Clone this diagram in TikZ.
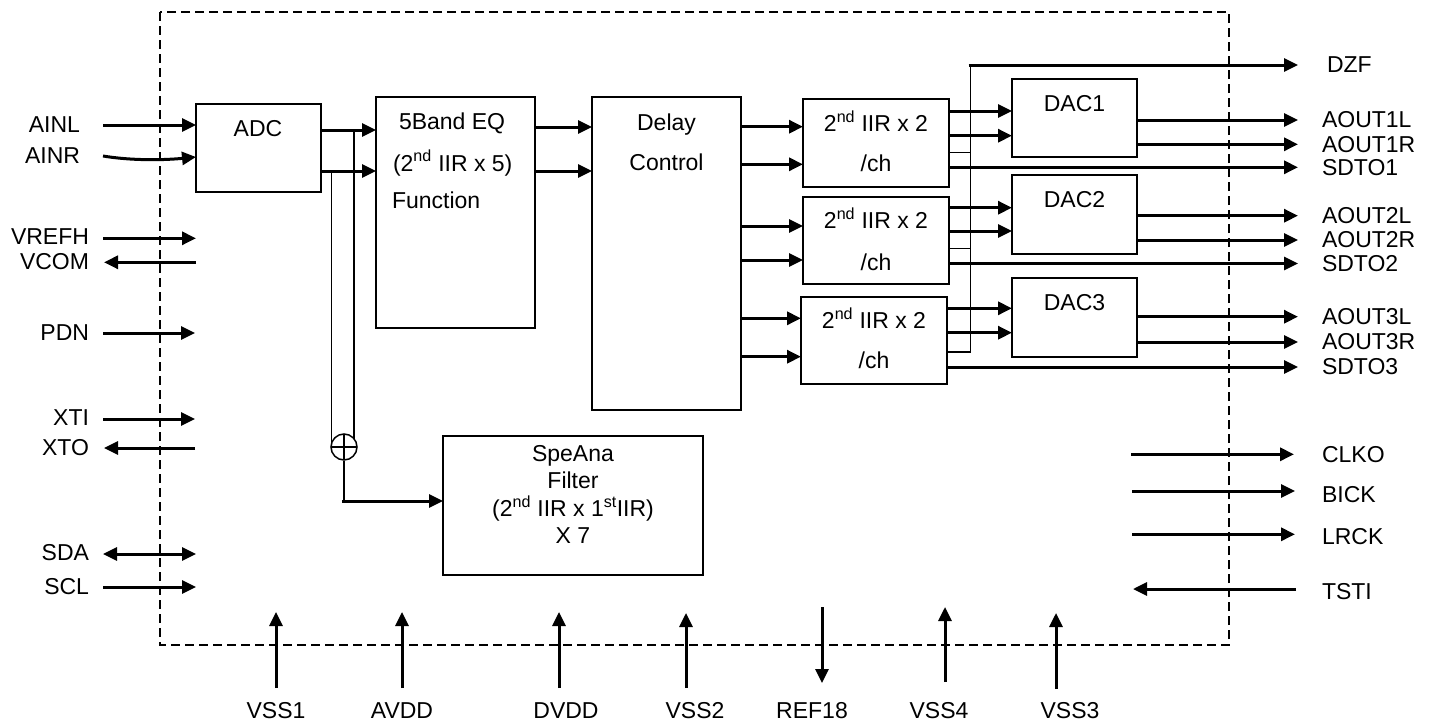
\documentclass[tikz,border=0pt]{standalone}
\usepackage{fontspec}
\setmainfont{Liberation Sans}
\usetikzlibrary{arrows.meta}
\begin{document}
\begin{tikzpicture}[x=1pt,y=-1pt,
  font=\fontsize{23}{27}\selectfont,
  blk/.style={draw, line width=1.5pt, inner sep=0pt, outer sep=0pt, anchor=north west},
  thn/.style={line width=1.5pt},
  thk/.style={line width=3pt, -{Triangle[length=14pt,width=13pt]}},
  bidir/.style={line width=3pt, {Triangle[length=14pt,width=13pt]}-{Triangle[length=14pt,width=13pt]}},
  txt/.style={inner sep=0pt, outer sep=0pt, anchor=base},
  lbl/.style={inner sep=0pt, outer sep=0pt},
  border/.style={line width=2pt, dash pattern=on 9pt off 5pt},
  cplus/.style={draw, circle, line width=1.5pt, minimum size=26pt, inner sep=0pt, fill=white,
    path picture={\draw[line width=1.5pt] (path picture bounding box.north) -- (path picture bounding box.south)
      (path picture bounding box.west) -- (path picture bounding box.east);}}
]
\useasboundingbox (0,0) rectangle (1440,728);
\fill[white] (0,0) rectangle (1440,728);

% chip outline
\draw[border] (160,12) rectangle (1229,645);

% blocks
\node[blk, minimum width=125pt, minimum height=88pt] (adc) at (196,104) {};
\node[blk, minimum width=159pt, minimum height=231pt] (eq) at (376,97) {};
\node[blk, minimum width=149pt, minimum height=313pt] (dly) at (592,97) {};
\node[blk, minimum width=146pt, minimum height=88pt] (iir1) at (803,99) {};
\node[blk, minimum width=146pt, minimum height=87pt] (iir2) at (803,197) {};
\node[blk, minimum width=146pt, minimum height=87pt] (iir3) at (801,297) {};
\node[blk, minimum width=125pt, minimum height=78pt] (dac1) at (1012,79) {};
\node[blk, minimum width=125pt, minimum height=79pt] (dac2) at (1012,175) {};
\node[blk, minimum width=125pt, minimum height=79pt] (dac3) at (1012,278) {};
\node[blk, minimum width=260pt, minimum height=139pt] (spe) at (443,436) {};

% block texts
\node[txt] (tadc) at (258,136) {ADC};
\node[txt, anchor=base west] (teq1) at (399,129) {5Band EQ};
\node[txt, anchor=base west] (teq2) at (393,171) {(2\textsuperscript{nd} IIR x 5)};
\node[txt, anchor=base west] (teq3) at (392,208) {Function};
\node[txt] (tdly1) at (666.5,130) {Delay};
\node[txt] (tdly2) at (666.5,170) {Control};
\node[txt] (ti1a) at (876,131.5) {2\textsuperscript{nd} IIR x 2};
\node[txt] (ti1b) at (876,171) {/ch};
\node[txt] (ti2a) at (876,228.5) {2\textsuperscript{nd} IIR x 2};
\node[txt] (ti2b) at (876,270) {/ch};
\node[txt] (ti3a) at (874,328.5) {2\textsuperscript{nd} IIR x 2};
\node[txt] (ti3b) at (874,368.5) {/ch};
\node[txt] (td1) at (1074.5,111) {DAC1};
\node[txt] (td2) at (1074.5,207) {DAC2};
\node[txt] (td3) at (1074.5,310) {DAC3};
\node[txt] (ts1) at (573,461.5) {SpeAna};
\node[txt] (ts2) at (573,488) {Filter};
\node[txt] (ts3) at (573,516.5) {(2\textsuperscript{nd} IIR x 1\textsuperscript{st}IIR)};
\node[txt] (ts4) at (573,543) {X 7};

% ADC -> EQ -> Delay
\draw[thk] (adc.east |- 0,130) -- (eq.west |- 0,130);
\draw[thk] (adc.east |- 0,171) -- (eq.west |- 0,171);
\draw[thk] (eq.east |- 0,127) -- (dly.west |- 0,127);
\draw[thk] (eq.east |- 0,171) -- (dly.west |- 0,171);

% tap to spectrum analyser
\coordinate (tapA) at (354,130);
\coordinate (tapB) at (331.5,171);
\coordinate (tapAe) at (354,439);
\coordinate (tapBe) at (331.5,443.5);
\draw[thn] (tapA) -- (tapAe);
\draw[thn] (tapB) -- (tapBe);
\node[cplus] (sum) at (344,447) {};
\coordinate (sumdn) at (344,501);
\draw[thn] (sum.south) -- (sumdn);
\draw[thk] ([xshift=-2pt]sumdn) -- (spe.west |- sumdn);

% Delay -> IIR
\draw[thk] (dly.east |- 0,126.7) -- (iir1.west |- 0,126.7);
\draw[thk] (dly.east |- 0,164.3) -- (iir1.west |- 0,164.3);
\draw[thk] (dly.east |- 0,226) -- (iir2.west |- 0,226);
\draw[thk] (dly.east |- 0,260) -- (iir2.west |- 0,260);
\draw[thk] (dly.east |- 0,318.3) -- (iir3.west |- 0,318.3);
\draw[thk] (dly.east |- 0,356.7) -- (iir3.west |- 0,356.7);

% bus to DZF
\coordinate (busTop) at (970.5,65);
\coordinate (busBot) at (970.5,352);
\draw[thn] (busTop) -- (busBot);
\draw[thn] (iir1.east |- 0,152.3) -- (busTop |- 0,152.3);
\draw[thn] (iir2.east |- 0,248.3) -- (busTop |- 0,248.3);
\draw[thn] (iir3.east |- 0,352) -- (busBot);

% IIR -> DAC
\draw[thk] (iir1.east |- 0,111) -- (dac1.west |- 0,111);
\draw[thk] (iir1.east |- 0,135.7) -- (dac1.west |- 0,135.7);
\draw[thk] (iir2.east |- 0,207.7) -- (dac2.west |- 0,207.7);
\draw[thk] (iir2.east |- 0,231) -- (dac2.west |- 0,231);
\draw[thk] (iir3.east |- 0,308.3) -- (dac3.west |- 0,308.3);
\draw[thk] (iir3.east |- 0,332.7) -- (dac3.west |- 0,332.7);

% right outputs
\coordinate (oDZF) at (1298,65);
\coordinate (oA1L) at (1298,120);
\coordinate (oA1R) at (1298,144.3);
\coordinate (oS1) at (1298,167.3);
\coordinate (oA2L) at (1298,215.7);
\coordinate (oA2R) at (1298,240);
\coordinate (oS2) at (1298,263.5);
\coordinate (oA3L) at (1298,316.7);
\coordinate (oA3R) at (1298,342);
\coordinate (oS3) at (1298,367);
\draw[thk] ([xshift=-2pt]busTop) -- (oDZF);
\draw[thk] (dac1.east |- oA1L) -- (oA1L);
\draw[thk] (dac1.east |- oA1R) -- (oA1R);
\draw[thk] (iir1.east |- oS1) -- (oS1);
\draw[thk] (dac2.east |- oA2L) -- (oA2L);
\draw[thk] (dac2.east |- oA2R) -- (oA2R);
\draw[thk] (iir2.east |- oS2) -- (oS2);
\draw[thk] (dac3.east |- oA3L) -- (oA3L);
\draw[thk] (dac3.east |- oA3R) -- (oA3R);
\draw[thk] (iir3.east |- oS3) -- (oS3);
\node[lbl, anchor=west] (lDZF) at (1327,65) {DZF};
\node[lbl, anchor=west] (lA1L) at (1322,120) {AOUT1L};
\node[lbl, anchor=west] (lA1R) at (1322,144.3) {AOUT1R};
\node[lbl, anchor=west] (lS1) at (1322,167.3) {SDTO1};
\node[lbl, anchor=west] (lA2L) at (1322,215.7) {AOUT2L};
\node[lbl, anchor=west] (lA2R) at (1322,240) {AOUT2R};
\node[lbl, anchor=west] (lS2) at (1322,263.5) {SDTO2};
\node[lbl, anchor=west] (lA3L) at (1322,316.7) {AOUT3L};
\node[lbl, anchor=west] (lA3R) at (1322,342) {AOUT3R};
\node[lbl, anchor=west] (lS3) at (1322,367) {SDTO3};

% right clock pins
\coordinate (cCLKOa) at (1131,454.3);  \coordinate (cCLKOb) at (1294,454.3);
\coordinate (cBICKa) at (1132,491);    \coordinate (cBICKb) at (1295,491);
\coordinate (cLRCKa) at (1132,534.3);  \coordinate (cLRCKb) at (1295,534.3);
\coordinate (cTSTIa) at (1296,589);    \coordinate (cTSTIb) at (1133,589);
\draw[thk] (cCLKOa) -- (cCLKOb);
\draw[thk] (cBICKa) -- (cBICKb);
\draw[thk] (cLRCKa) -- (cLRCKb);
\draw[thk] (cTSTIa) -- (cTSTIb);
\node[lbl, anchor=west] (lCLKO) at (1322,455) {CLKO};
\node[lbl, anchor=west] (lBICK) at (1322,495) {BICK};
\node[lbl, anchor=west] (lLRCK) at (1322,537) {LRCK};
\node[lbl, anchor=west] (lTSTI) at (1322,592) {TSTI};

% left pins
\coordinate (aAINL) at (103,125);
\coordinate (aAINR) at (103,156);
\draw[thk] (aAINL) -- (adc.west |- aAINL);
\draw[thk] (aAINR) .. controls +(30,5) and +(-30,3) .. (adc.west |- 0,157);
\node[lbl, anchor=east] (lAINL) at (80,125) {AINL};
\node[lbl, anchor=east] (lAINR) at (80,156) {AINR};

\coordinate (aVREFH) at (103,238.3); \coordinate (bVREFH) at (196,238.3);
\coordinate (aVCOM) at (196,262.3);  \coordinate (bVCOM) at (104,262.3);
\coordinate (aPDN) at (103,333);     \coordinate (bPDN) at (195,333);
\coordinate (aXTI) at (103,419);     \coordinate (bXTI) at (195,419);
\coordinate (aXTO) at (195,448);     \coordinate (bXTO) at (104,448);
\coordinate (aSDA) at (103,554);     \coordinate (bSDA) at (196,554);
\coordinate (aSCL) at (103,587);     \coordinate (bSCL) at (196,587);
\draw[thk] (aVREFH) -- (bVREFH);
\draw[thk] (aVCOM) -- (bVCOM);
\draw[thk] (aPDN) -- (bPDN);
\draw[thk] (aXTI) -- (bXTI);
\draw[thk] (aXTO) -- (bXTO);
\draw[bidir] (aSDA) -- (bSDA);
\draw[thk] (aSCL) -- (bSCL);
\node[lbl, anchor=east] (lVREFH) at (89,237) {VREFH};
\node[lbl, anchor=east] (lVCOM) at (89,262) {VCOM};
\node[lbl, anchor=east] (lPDN) at (89,333) {PDN};
\node[lbl, anchor=east] (lXTI) at (89,418) {XTI};
\node[lbl, anchor=east] (lXTO) at (89,448) {XTO};
\node[lbl, anchor=east] (lSDA) at (89,553) {SDA};
\node[lbl, anchor=east] (lSCL) at (89,587) {SCL};

% bottom power pins
\coordinate (pVSS1a) at (276,688); \coordinate (pVSS1b) at (276,612);
\coordinate (pAVDDa) at (402,688); \coordinate (pAVDDb) at (402,612);
\coordinate (pDVDDa) at (559,688); \coordinate (pDVDDb) at (559,612);
\coordinate (pVSS2a) at (686,688); \coordinate (pVSS2b) at (686,613);
\coordinate (pREFa) at (822,607);  \coordinate (pREFb) at (822,683);
\coordinate (pVSS4a) at (945,682); \coordinate (pVSS4b) at (945,607);
\coordinate (pVSS3a) at (1056,689); \coordinate (pVSS3b) at (1056,613);
\draw[thk] (pVSS1a) -- (pVSS1b);
\draw[thk] (pAVDDa) -- (pAVDDb);
\draw[thk] (pDVDDa) -- (pDVDDb);
\draw[thk] (pVSS2a) -- (pVSS2b);
\draw[thk] (pREFa) -- (pREFb);
\draw[thk] (pVSS4a) -- (pVSS4b);
\draw[thk] (pVSS3a) -- (pVSS3b);
\node[txt] (lVSS1) at (276,718.3) {VSS1};
\node[txt] (lAVDD) at (402,718.3) {AVDD};
\node[txt] (lDVDD) at (566,718.3) {DVDD};
\node[txt] (lVSS2) at (695,718.3) {VSS2};
\node[txt] (lREF) at (812,718.3) {REF18};
\node[txt] (lVSS4) at (939,718.3) {VSS4};
\node[txt] (lVSS3) at (1070,718.3) {VSS3};
\end{tikzpicture}
\end{document}
